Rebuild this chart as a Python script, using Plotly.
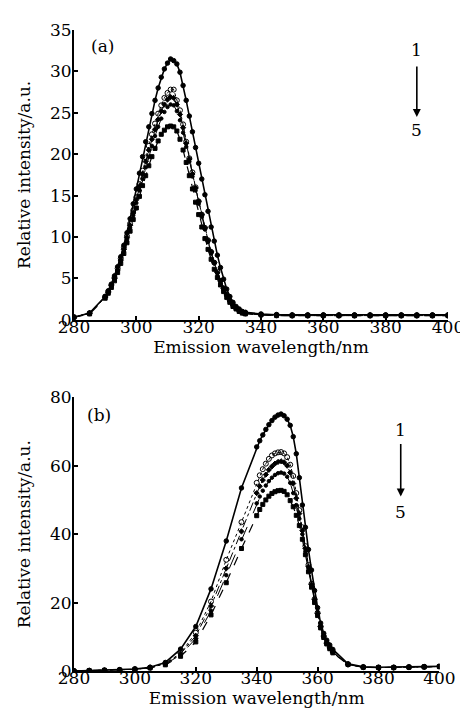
import plotly.graph_objects as go

# wavelength grids (nm)
wl_a = [280, 285, 290, 291, 292, 293, 294, 295, 296, 297, 298, 299, 300, 301, 302, 303,
        304, 305, 306, 307, 308, 309, 310, 311, 312, 313, 314, 315, 316, 317, 318, 319,
        320, 321, 322, 323, 324, 325, 326, 327, 328, 329, 330, 331, 332, 333, 334, 335,
        340, 345, 350, 355, 360, 365, 370, 375, 380, 385, 390, 395, 400]
wl_b = [280, 285, 290, 295, 300, 305, 310, 315, 320, 325, 330, 335, 340,
        341, 342, 343, 344, 345, 346, 347, 348, 349, 350, 351, 352, 353, 354, 355, 356,
        357, 358, 359, 360, 361, 362, 363, 364,
        365, 370, 375, 380, 385, 390, 395, 400]

# panel (a) intensities, curves 1..5
a1 = [0.3, 0.8, 2.8, 3.5, 4.3, 5.3, 6.4, 7.6, 9.0, 10.5, 12.2, 14.0, 15.8, 17.7, 19.7, 21.5,
      23.3, 24.9, 26.5, 28.0, 29.3, 30.3, 31.0, 31.5, 31.3, 30.9, 29.9, 28.3, 26.5, 24.6, 22.7, 20.8,
      18.9, 17.0, 15.1, 13.1, 11.2, 9.5, 7.8, 6.3, 4.9, 3.7, 2.8, 2.1, 1.6, 1.3, 1.0, 0.9,
      0.7, 0.6, 0.6, 0.6, 0.6, 0.6, 0.6, 0.6, 0.6, 0.6, 0.6, 0.6, 0.6]
a2 = [0.3, 0.8, 2.8, 3.4, 4.2, 5.1, 6.2, 7.4, 8.7, 10.1, 11.6, 13.2, 14.8, 16.4, 18.0, 19.6,
      21.0, 22.4, 23.7, 24.9, 25.9, 26.8, 27.4, 27.8, 27.8, 26.5, 25.3, 23.6, 21.5, 19.5, 17.8, 16.0,
      14.3, 12.7, 11.1, 9.6, 8.2, 6.9, 5.8, 4.7, 3.8, 3.0, 2.3, 1.8, 1.4, 1.1, 0.9, 0.8,
      0.6, 0.6, 0.5, 0.5, 0.5, 0.5, 0.5, 0.5, 0.5, 0.5, 0.5, 0.5, 0.5]
a3 = [0.3, 0.8, 2.7, 3.3, 4.1, 5.0, 6.0, 7.2, 8.5, 9.9, 11.4, 12.9, 14.5, 16.1, 17.6, 19.1,
      20.5, 21.8, 23.0, 24.2, 25.2, 26.0, 26.6, 26.9, 26.8, 26.0, 24.8, 23.2, 21.3, 19.4, 17.6, 15.9,
      14.3, 12.7, 11.1, 9.6, 8.2, 6.9, 5.7, 4.7, 3.8, 3.0, 2.3, 1.8, 1.4, 1.1, 0.9, 0.8,
      0.6, 0.5, 0.5, 0.5, 0.5, 0.5, 0.5, 0.5, 0.5, 0.5, 0.5, 0.5, 0.5]
a4 = [0.3, 0.8, 2.7, 3.3, 4.0, 4.9, 5.9, 7.0, 8.3, 9.7, 11.1, 12.6, 14.1, 15.6, 17.0, 18.4,
      19.7, 21.0, 22.2, 23.3, 24.3, 25.1, 25.7, 26.0, 25.9, 25.2, 24.1, 22.6, 20.9, 19.1, 17.3, 15.6,
      14.0, 12.4, 10.9, 9.4, 8.0, 6.8, 5.6, 4.6, 3.7, 2.9, 2.2, 1.7, 1.3, 1.0, 0.8, 0.7,
      0.6, 0.5, 0.5, 0.5, 0.5, 0.5, 0.5, 0.5, 0.5, 0.5, 0.5, 0.5, 0.5]
a5 = [0.3, 0.7, 2.6, 3.2, 3.9, 4.7, 5.7, 6.8, 8.0, 9.3, 10.7, 12.1, 13.5, 14.9, 16.2, 17.4,
      18.6, 19.7, 20.7, 21.6, 22.4, 22.9, 23.3, 23.4, 23.3, 22.8, 21.8, 20.5, 19.0, 17.4, 15.8, 14.2,
      12.7, 11.2, 9.8, 8.5, 7.3, 6.1, 5.1, 4.2, 3.4, 2.7, 2.1, 1.6, 1.3, 1.0, 0.8, 0.7,
      0.6, 0.5, 0.5, 0.5, 0.5, 0.5, 0.5, 0.5, 0.5, 0.5, 0.5, 0.5, 0.5]

# panel (b) intensities, curves 1..5
b1 = [0.0, 0.1, 0.2, 0.4, 0.6, 1.1, 2.5, 6.4, 13.0, 24.0, 38.0, 53.5, 65.5,
      67.3, 69.0, 70.6, 72.0, 73.2, 74.2, 74.8, 75.1, 74.6, 73.6, 71.8, 68.5, 63.5, 56.5, 48.5, 42.0,
      35.5, 29.5, 23.5, 18.5, 14.0, 11.0, 9.0, 7.6,
      6.3, 2.1, 1.2, 1.1, 1.1, 1.2, 1.3, 1.4]
b2 = [0.0, 0.1, 0.2, 0.3, 0.5, 1.0, 2.2, 5.2, 11.2, 20.3, 32.5, 43.5, 55.0,
      57.2, 59.0, 60.6, 62.0, 63.0, 63.6, 63.9, 64.0, 63.6, 62.5, 60.3, 57.0, 52.0, 47.0, 42.0, 36.5,
      31.0, 25.5, 21.0, 17.0, 13.0, 10.2, 8.2, 6.8,
      5.6, 1.9, 1.1, 1.0, 1.0, 1.1, 1.2, 1.3]
b3 = [0.0, 0.1, 0.2, 0.3, 0.5, 1.0, 2.1, 5.0, 10.3, 19.0, 30.0, 40.8, 52.0,
      54.0, 55.8, 57.4, 58.8, 59.8, 60.6, 61.1, 61.3, 61.0, 60.0, 58.0, 54.8, 50.5, 46.0, 41.0, 35.8,
      30.5, 25.3, 20.8, 16.8, 13.0, 10.2, 8.1, 6.7,
      5.5, 1.9, 1.1, 1.0, 1.0, 1.1, 1.2, 1.3]
b4 = [0.0, 0.1, 0.2, 0.3, 0.5, 0.9, 2.0, 4.7, 9.5, 17.6, 28.0, 38.5, 49.0,
      51.0, 52.7, 54.2, 55.5, 56.5, 57.3, 57.8, 58.0, 57.7, 56.8, 55.0, 52.0, 48.5, 44.5, 40.0, 35.0,
      30.0, 25.0, 20.5, 16.5, 12.8, 10.0, 8.0, 6.6,
      5.4, 1.9, 1.1, 1.0, 1.0, 1.1, 1.2, 1.3]
b5 = [0.0, 0.1, 0.2, 0.3, 0.5, 0.9, 1.8, 4.3, 8.5, 16.4, 25.8, 35.8, 45.4,
      47.2, 48.7, 50.0, 51.1, 51.9, 52.4, 52.7, 52.8, 52.5, 51.5, 49.8, 48.0, 45.5, 42.5, 38.5, 34.0,
      29.0, 24.5, 20.0, 16.2, 12.6, 9.8, 7.9, 6.5,
      5.3, 1.9, 1.1, 1.0, 1.0, 1.1, 1.2, 1.3]

ticks_x = [280, 300, 320, 340, 360, 380, 400]
ticks_ya = [0, 5, 10, 15, 20, 25, 30, 35]
ticks_yb = [0, 20, 40, 60, 80]

# line / marker style per curve number
styles = [
    dict(dash="solid", width=1.6, symbol="circle", size=4.5),
    dict(dash="dot", width=1.0, symbol="circle-open", size=5),
    dict(dash="dashdot", width=1.0, symbol="diamond", size=4),
    dict(dash="longdash", width=1.0, symbol="circle", size=3.5),
    dict(dash="dash", width=1.2, symbol="square", size=4),
]

FONT = "DejaVu Serif"
fig = go.Figure()

for ys, xax, yax, wl in [([a1, a2, a3, a4, a5], "x", "y", wl_a),
                         ([b1, b2, b3, b4, b5], "x2", "y2", wl_b)]:
    for i, y in enumerate(ys):
        s = styles[i]
        fig.add_trace(go.Scatter(
            x=wl, y=y, xaxis=xax, yaxis=yax, mode="lines+markers",
            line=dict(color="black", width=s["width"], dash=s["dash"]),
            marker=dict(color="black", size=s["size"], symbol=s["symbol"],
                        line=dict(color="black", width=1)),
            showlegend=False, hoverinfo="skip"))

axis_common = dict(
    showline=True, linecolor="black", linewidth=2, mirror=False,
    ticks="inside", ticklen=4, tickwidth=1.5, tickcolor="black",
    showgrid=False, zeroline=False,
    tickfont=dict(family=FONT, size=17, color="black"),
)
xtitle = dict(text="Emission wavelength/nm", font=dict(family=FONT, size=17), standoff=0)
ytitle = dict(text="Relative intensity/a.u.", font=dict(family=FONT, size=17), standoff=15)

fig.update_layout(
    width=468, height=713,
    margin=dict(l=66, r=15, t=17, b=50),
    paper_bgcolor="white", plot_bgcolor="white",
    font=dict(family=FONT, color="black"),
    xaxis=dict(axis_common, domain=[0, 1], anchor="y", range=[280, 400], tickvals=ticks_x,
               ticklabelstandoff=-9, title=xtitle),
    yaxis=dict(axis_common, domain=[0.548, 1.0], anchor="x", range=[0, 35], tickvals=ticks_ya,
               ticklabelstandoff=-3, title=ytitle),
    xaxis2=dict(axis_common, domain=[0, 0.977], anchor="y2", range=[280, 400], tickvals=ticks_x,
                ticklabelstandoff=-9, title=xtitle),
    yaxis2=dict(axis_common, domain=[0, 0.427], anchor="x2", range=[0, 80], tickvals=ticks_yb,
                ticklabelstandoff=-3, title=ytitle),
)

txt = dict(family=FONT, size=17, color="black")
ann = [
    dict(x=289, y=33.1, xref="x", yref="y", text="(a)", showarrow=False, font=txt),
    dict(x=390, y=32.6, xref="x", yref="y", text="1", showarrow=False, font=txt),
    dict(x=390, y=22.9, xref="x", yref="y", text="5", showarrow=False, font=txt),
    dict(x=390, y=24.5, xref="x", yref="y", text="", showarrow=True, ax=0, ay=-52,
         arrowhead=2, arrowsize=1, arrowwidth=1.6, arrowcolor="black"),
    dict(x=288.3, y=74.8, xref="x2", yref="y2", text="(b)", showarrow=False, font=txt),
    dict(x=387.3, y=70.4, xref="x2", yref="y2", text="1", showarrow=False, font=txt),
    dict(x=387.3, y=46.4, xref="x2", yref="y2", text="5", showarrow=False, font=txt),
    dict(x=387.3, y=51.0, xref="x2", yref="y2", text="", showarrow=True, ax=0, ay=-54,
         arrowhead=2, arrowsize=1, arrowwidth=1.6, arrowcolor="black"),
]
fig.update_layout(annotations=ann)

fig.write_html("out.html")
